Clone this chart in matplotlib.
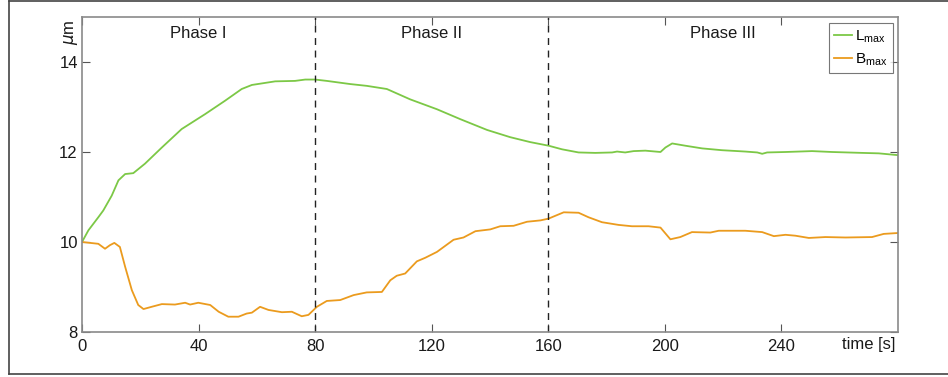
import matplotlib
matplotlib.use("Agg")
import matplotlib.pyplot as plt
from matplotlib.lines import Line2D

plt.rcParams['font.family'] = ['Liberation Sans', 'DejaVu Sans']
plt.rcParams['mathtext.fontset'] = 'custom'
plt.rcParams['mathtext.rm'] = 'Liberation Sans'

# ---- data ----
l_t = [0, 2.2, 5.6, 7.3, 10.2, 12.5, 14.8, 17.6, 21.6, 27.4, 34.2, 42.2, 49.1, 54.8,
       58.3, 66.3, 73.1, 76.6, 80.0, 84.0, 92.0, 97.7, 104.6, 112.6, 121.8, 129.8,
       139.0, 146.9, 153.8, 160.1, 164.7, 170.4, 176.1, 181.9, 183.6, 186.4, 189.3,
       193.3, 198.5, 200.2, 202.5, 207.0, 212.8, 219.6, 227.6, 231.7, 233.4, 235.1,
       241.4, 250.5, 257.4, 267.7, 273.4, 280.0]
l_v = [10.0, 10.26, 10.55, 10.70, 11.03, 11.37, 11.51, 11.53, 11.74, 12.10, 12.51,
       12.84, 13.14, 13.40, 13.49, 13.57, 13.58, 13.61, 13.61, 13.58, 13.51, 13.47,
       13.40, 13.17, 12.95, 12.73, 12.49, 12.33, 12.22, 12.14, 12.06, 11.99, 11.98,
       11.99, 12.01, 11.99, 12.02, 12.03, 12.00, 12.10, 12.19, 12.14, 12.08, 12.04,
       12.01, 11.99, 11.96, 11.99, 12.00, 12.02, 12.00, 11.98, 11.97, 11.93]

b_t = [0, 5.6, 7.9, 9.6, 11.1, 13.0, 14.8, 17.1, 19.3, 21.1, 23.9, 27.4, 31.9, 35.4,
       37.1, 39.9, 44.0, 46.9, 50.2, 53.7, 56.5, 58.3, 61.1, 64.0, 68.6, 72.0, 75.4,
       77.7, 80.6, 84.0, 88.6, 93.2, 97.7, 102.9, 105.8, 108.0, 110.9, 114.9, 117.8,
       121.8, 127.5, 130.9, 135.0, 140.1, 143.5, 148.1, 152.7, 157.3, 160.1, 165.3,
       170.4, 173.8, 178.4, 184.1, 188.7, 194.4, 198.5, 200.2, 201.9, 205.3, 209.3,
       215.6, 218.5, 227.6, 233.4, 237.4, 241.4, 244.8, 249.4, 255.1, 262.0, 271.1,
       275.1, 280.0]
b_v = [10.0, 9.96, 9.85, 9.93, 9.98, 9.89, 9.45, 8.93, 8.60, 8.51, 8.56, 8.62, 8.61,
       8.65, 8.61, 8.65, 8.60, 8.45, 8.34, 8.34, 8.41, 8.43, 8.56, 8.49, 8.44, 8.45,
       8.35, 8.38, 8.56, 8.69, 8.71, 8.82, 8.88, 8.89, 9.15, 9.25, 9.30, 9.57, 9.65,
       9.78, 10.05, 10.10, 10.24, 10.28, 10.35, 10.36, 10.45, 10.48, 10.52, 10.66,
       10.65, 10.55, 10.44, 10.38, 10.35, 10.35, 10.32, 10.19, 10.06, 10.11, 10.22,
       10.21, 10.25, 10.25, 10.22, 10.13, 10.16, 10.14, 10.09, 10.11, 10.10, 10.11,
       10.18, 10.20]

phase_bounds = [80, 160]
phase_labels = ['Phase I', 'Phase II', 'Phase III']
phase_label_x = [40, 120, 220]
x_ticks = [0, 40, 80, 120, 160, 200, 240]
y_ticks = [8, 10, 12, 14]

green = '#7cc846'
orange = '#eb9b1e'
spine = '#8a8a8a'

fig = plt.figure(figsize=(9.48, 3.77), dpi=100)
ax = fig.add_axes([82 / 948, 1 - 332 / 377, (898 - 82) / 948, (332 - 17) / 377])

ax.plot(l_t, l_v, color=green, lw=1.3, label=r'L$_{\mathrm{max}}$')
ax.plot(b_t, b_v, color=orange, lw=1.3, label=r'B$_{\mathrm{max}}$')

for xb in phase_bounds:
    ax.axvline(xb, color='#222222', lw=1.0, ls=(0, (5, 4)))
for xl, lab in zip(phase_label_x, phase_labels):
    ax.text(xl, 14.63, lab, ha='center', va='center', fontsize=12, color='#1a1a1a')

ax.set_xlim(0, 280)
ax.set_ylim(8, 15)
ax.set_xticks(x_ticks)
ax.set_yticks(y_ticks)
ax.tick_params(direction='in', length=6, width=0.8, color='#555555',
               top=True, right=True, labelsize=12, labelcolor='#1a1a1a')
ax.tick_params(axis='x', pad=5)
ax.tick_params(axis='y', pad=3)
for s in ax.spines.values():
    s.set_color(spine)
    s.set_linewidth(1.2)

leg = ax.legend(loc='upper right', fontsize=11, frameon=True, fancybox=False,
                borderaxespad=0.0, handlelength=1.2, handletextpad=0.2,
                borderpad=0.35, labelspacing=0.4, bbox_to_anchor=(0.9939, 0.981))
leg.get_frame().set_edgecolor('#555555')
leg.get_frame().set_linewidth(0.8)

fig.text(71 / 948, 1 - 32 / 377, r'$\mu$m', rotation=90, ha='center', va='center',
         fontsize=12, color='#1a1a1a')
fig.text(895 / 948, 1 - 345 / 377, 'time [s]', ha='right', va='center',
         fontsize=12, color='#1a1a1a')

# outer frame (left, top, bottom)
for xs, ys in [([8.5 / 948, 8.5 / 948], [1 - 0.5 / 377, 1 - 373.5 / 377]),
               ([8.5 / 948, 1.0], [1 - 0.5 / 377, 1 - 0.5 / 377]),
               ([8.5 / 948, 1.0], [1 - 373.5 / 377, 1 - 373.5 / 377])]:
    fig.add_artist(Line2D(xs, ys, color='#444444', lw=1.2, transform=fig.transFigure))

fig.savefig('out.png', dpi=100)
